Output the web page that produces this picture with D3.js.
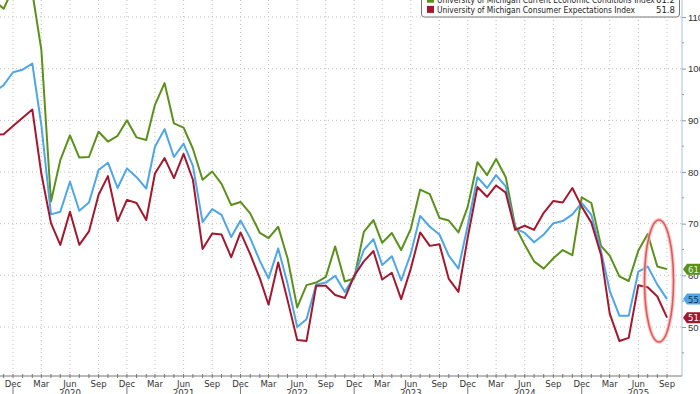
<!DOCTYPE html>
<html lang="en">
<head>
  <meta charset="UTF-8">
  <title>University of Michigan Sentiment</title>
  <script src="https://d3js.org/d3.v7.min.js"></script>
  <style>
    body { margin: 0; background: #fff; }
    svg { display: block; font-family: "Liberation Sans Narrow", "DejaVu Sans Condensed", sans-serif; }
  </style>
</head>
<body>
<div id="viz"></div>
<script>
// Monthly data, Oct 2019 .. Sep 2025
var startMonth = "2019-10";
var sentiment = [95.5, 96.8, 99.3,
  99.8, 101.0, 89.1, 71.8, 72.3, 78.1, 72.5, 74.1, 80.4, 81.8, 76.9, 80.7,
  79.0, 76.8, 84.9, 88.3, 82.9, 85.5, 81.2, 70.3, 72.8, 71.7, 67.4, 70.6,
  67.2, 62.8, 59.4, 65.2, 58.4, 50.0, 51.5, 58.2, 58.6, 59.9, 56.8, 59.7,
  64.9, 67.0, 62.0, 63.7, 59.0, 64.2, 71.5, 69.4, 67.9, 63.8, 61.3, 69.7,
  79.0, 76.9, 79.4, 77.2, 69.1, 68.2, 66.4, 67.9, 70.1, 70.5, 71.8, 74.0,
  71.7, 64.7, 57.0, 52.2, 52.2, 60.7, 61.7, 58.2, 55.4];
var current = [113.2, 111.6, 115.5,
  114.4, 114.8, 103.7, 74.3, 82.3, 87.1, 82.8, 82.9, 87.8, 85.9, 87.0, 90.0,
  86.7, 86.2, 93.0, 97.2, 89.4, 88.6, 84.5, 78.5, 80.1, 77.7, 73.6, 74.2,
  72.0, 68.2, 67.2, 69.4, 63.3, 53.8, 58.1, 58.6, 59.7, 65.6, 58.8, 59.4,
  68.4, 70.7, 66.3, 68.2, 64.9, 69.0, 76.6, 75.7, 71.1, 70.6, 68.3, 73.3,
  81.9, 79.4, 82.5, 79.0, 69.6, 65.9, 62.7, 61.3, 63.3, 64.9, 63.9, 75.1,
  74.0, 65.7, 63.8, 59.8, 58.9, 64.8, 68.0, 61.7, 61.2];
var expectations = [87.2, 87.3, 88.9,
  90.5, 92.1, 79.7, 70.1, 65.9, 72.3, 65.9, 68.5, 75.6, 79.2, 70.5, 74.6,
  74.0, 70.7, 79.7, 82.7, 78.8, 83.5, 78.5, 65.1, 68.1, 67.9, 63.5, 68.3,
  64.1, 59.4, 54.3, 62.5, 55.2, 47.5, 47.3, 58.0, 58.0, 56.2, 55.6, 59.9,
  62.7, 64.7, 59.2, 60.5, 55.4, 61.3, 68.3, 65.7, 66.0, 59.3, 56.8, 67.4,
  77.1, 75.2, 77.4, 76.0, 68.8, 69.6, 68.8, 72.1, 74.4, 74.1, 76.9, 73.3,
  70.2, 64.0, 52.6, 47.3, 47.9, 58.1, 57.7, 55.9, 51.8];

var seriesNames = ["University of Michigan Consumer Sentiment Index",
  "University of Michigan Current Economic Conditions Index",
  "University of Michigan Consumer Expectations Index"];
var seriesColors = ["#4ea6e6", "#5b901a", "#a3182f"];
var tagText = ["#10325a", "#e8f5d8", "#ffffff"];
var yTicks = [50, 60, 70, 80, 90, 100, 110];
var monthNames = ["Jan","Feb","Mar","Apr","May","Jun","Jul","Aug","Sep","Oct","Nov","Dec"];

var W = 700, H = 394;
var axisX = 682, axisY = 376;

var t0 = d3.timeParse("%Y-%m")(startMonth);
var dates = sentiment.map((d, i) => d3.timeMonth.offset(t0, i));
var all = [sentiment, current, expectations];

var x = d3.scaleTime()
  .domain([new Date(2019, 11, 1), new Date(2025, 8, 1)])
  .range([13, 667]);
var y = d3.scaleLinear().domain([50, 110]).range([327, 17]);

var svg = d3.select("#viz").append("svg")
  .attr("width", W).attr("height", H);

svg.append("defs").append("clipPath").attr("id", "plot")
  .append("rect").attr("x", 0).attr("y", 0).attr("width", axisX).attr("height", axisY);

var months = d3.timeMonth.range(new Date(2019, 10, 1), new Date(2025, 9, 1));
var quarters = months.filter(d => d.getMonth() % 3 === 2);

// grid
var grid = svg.append("g").attr("stroke", "#bdbdbd").attr("stroke-dasharray", "1,3");
grid.selectAll(".h").data(yTicks).enter().append("line")
  .attr("x1", 0).attr("x2", axisX)
  .attr("y1", d => y(d)).attr("y2", d => y(d));
grid.selectAll(".v").data(quarters).enter().append("line")
  .attr("x1", d => x(d)).attr("x2", d => x(d))
  .attr("y1", 0).attr("y2", axisY);

// lines
var line = d3.line().x((d, i) => x(dates[i])).y(d => y(d));
var lines = svg.append("g").attr("clip-path", "url(#plot)");
[1, 0, 2].forEach(k => {
  lines.append("path").datum(all[k])
    .attr("fill", "none")
    .attr("stroke", seriesColors[k])
    .attr("stroke-width", 2)
    .attr("stroke-linejoin", "round")
    .attr("d", line);
});

// highlight ellipse
svg.append("ellipse").attr("cx", 659).attr("cy", 281).attr("rx", 14.5).attr("ry", 61)
  .attr("fill", "none").attr("stroke", "#f3b0b0").attr("stroke-width", 4).attr("opacity", 0.7);
svg.append("ellipse").attr("cx", 659).attr("cy", 281).attr("rx", 14.5).attr("ry", 61)
  .attr("fill", "none").attr("stroke", "#de5a5a").attr("stroke-width", 1.6);

// bottom axis
svg.append("line").attr("x1", 0).attr("x2", axisX).attr("y1", axisY).attr("y2", axisY)
  .attr("stroke", "#777");
svg.append("g").selectAll("line").data(months).enter().append("line")
  .attr("x1", d => x(d)).attr("x2", d => x(d))
  .attr("y1", axisY - 2).attr("y2", axisY + 2).attr("stroke", "#777");
svg.append("g").selectAll("text").data(quarters).enter().append("text")
  .attr("x", d => x(d)).attr("y", 386.5)
  .attr("text-anchor", "middle").attr("font-size", "9.5px").attr("fill", "#333")
  .text(d => monthNames[d.getMonth()]);
var decs = months.filter(d => d.getMonth() === 11);
svg.append("g").selectAll("line").data(decs).enter().append("line")
  .attr("x1", d => x(d)).attr("x2", d => x(d))
  .attr("y1", 387).attr("y2", H).attr("stroke", "#777");
var junes = months.filter(d => d.getMonth() === 5);
svg.append("g").selectAll("text").data(junes).enter().append("text")
  .attr("x", d => x(d)).attr("y", 396)
  .attr("text-anchor", "middle").attr("font-size", "9.5px").attr("fill", "#333")
  .text(d => d.getFullYear());

// right axis
svg.append("line").attr("x1", axisX).attr("x2", axisX).attr("y1", 0).attr("y2", axisY)
  .attr("stroke", "#a9c3da");
var ya = svg.append("g").attr("transform", `translate(${axisX},0)`)
  .call(d3.axisRight(y).tickValues(yTicks).tickSize(4).tickPadding(2).tickFormat(d3.format("d")));
ya.select(".domain").remove();
ya.selectAll("line").attr("stroke", "#7f9fbd");
ya.selectAll("text").attr("font-size", "9.5px").attr("fill", "#333").attr("font-family", null);
svg.append("g").selectAll("line").data(d3.range(45, 115, 10)).enter().append("line")
  .attr("x1", axisX).attr("x2", axisX + 2)
  .attr("y1", d => y(d)).attr("y2", d => y(d)).attr("stroke", "#7f9fbd");

// value tags
[1, 0, 2].forEach(k => {
  var v = all[k][all[k].length - 1];
  var ty = y(v);
  var g = svg.append("g");
  g.append("path")
    .attr("d", `M${axisX + 1},${ty} L${axisX + 5},${ty - 5.5} L${W + 10},${ty - 5.5} L${W + 10},${ty + 5.5} L${axisX + 5},${ty + 5.5} Z`)
    .attr("fill", seriesColors[k]);
  g.append("text").attr("x", axisX + 6).attr("y", ty + 3.5)
    .attr("font-size", "9.5px").attr("fill", tagText[k])
    .text(d3.format(".1f")(v));
});

// legend
var lg = svg.append("g");
lg.append("rect").attr("x", 421.5).attr("y", -34).attr("width", 258).attr("height", 51)
  .attr("rx", 3).attr("fill", "#fff").attr("stroke", "#777");
var names = [];
[0, 1, 2].forEach(k => {
  var by = -7.5 + k * 10.2;
  lg.append("rect").attr("x", 427).attr("y", by - 7).attr("width", 7).attr("height", 7)
    .attr("fill", seriesColors[k]);
  names.push(lg.append("text").attr("x", 437).attr("y", by)
    .attr("font-size", "9.5px").attr("fill", "#222").text(seriesNames[k]));
  lg.append("text").attr("x", 675).attr("y", by).attr("text-anchor", "end")
    .attr("font-size", "9.5px").attr("fill", "#222")
    .text(d3.format(".1f")(all[k][all[k].length - 1]));
});
// squeeze the legend labels to the narrow face of the original
var squeeze = 198 / names[2].node().getComputedTextLength();
if (squeeze < 1) {
  names.forEach(t => t.attr("textLength", t.node().getComputedTextLength() * squeeze)
    .attr("lengthAdjust", "spacingAndGlyphs"));
}
</script>
</body>
</html>
